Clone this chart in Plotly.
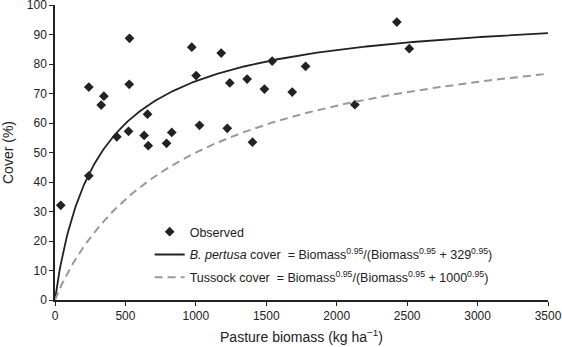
import numpy as np
import plotly.graph_objects as go

obs_biomass = [41, 240, 240, 328, 347, 439, 522, 527, 529, 633, 657, 662, 792, 829,
               971, 1002, 1026, 1180, 1223, 1241, 1364, 1402, 1487, 1542, 1684, 1779,
               2129, 2427, 2515]
obs_cover = [32.1, 42.1, 72.2, 66.1, 69.1, 55.3, 57.2, 73.1, 88.7, 55.8, 63.0, 52.3, 53.1, 56.8,
             85.7, 76.1, 59.2, 83.7, 58.2, 73.6, 74.9, 53.5, 71.5, 81.0, 70.5, 79.2,
             66.2, 94.2, 85.2]

# Fitted model parameters (from legend equations)
exponent = 0.95
k_pertusa = 329
k_tussock = 1000
x_max = 3500

biomass = np.linspace(0, x_max, 351)
pertusa = 100 * biomass**exponent / (biomass**exponent + k_pertusa**exponent)
tussock = 100 * biomass**exponent / (biomass**exponent + k_tussock**exponent)

x_ticks = [0, 500, 1000, 1500, 2000, 2500, 3000, 3500]
y_ticks = [0, 10, 20, 30, 40, 50, 60, 70, 80, 90, 100]

font = "Liberation Sans, Arial, sans-serif"

fig = go.Figure()
fig.add_trace(go.Scatter(
    x=obs_biomass, y=obs_cover, mode="markers", name="Observed", legendgroup="a",
    marker=dict(symbol="diamond", size=7.5, color="#222222"),
))
fig.add_trace(go.Scatter(
    x=biomass, y=pertusa, mode="lines", legendgroup="b",
    name="<i>B. pertusa</i> cover  = Biomass<sup>0.95</sup>/(Biomass<sup>0.95</sup> + 329<sup>0.95</sup>)",
    line=dict(color="#222222", width=1.8),
))
fig.add_trace(go.Scatter(
    x=biomass, y=tussock, mode="lines", legendgroup="c",
    name="Tussock cover  = Biomass<sup>0.95</sup>/(Biomass<sup>0.95</sup> + 1000<sup>0.95</sup>)",
    line=dict(color="#999999", width=2, dash="8px,5px"),
))

fig.update_layout(
    width=562, height=347,
    margin=dict(l=54.5, r=14, t=5, b=47.3, autoexpand=False),
    paper_bgcolor="white", plot_bgcolor="white",
    font=dict(family=font, size=12, color="#222222"),
    showlegend=True,
    legend=dict(x=0.192, y=0.281, xanchor="left", yanchor="top",
                bgcolor="rgba(0,0,0,0)", font=dict(size=12.5),
                tracegroupgap=3.5, itemwidth=30),
    xaxis=dict(range=[0, x_max], tickvals=x_ticks, showgrid=False, zeroline=False,
               showline=True, linecolor="#222222", linewidth=1.5,
               ticks="outside", ticklen=4, tickcolor="#222222", ticklabeloverflow="allow",
               title=dict(text="Pasture biomass (kg ha<sup>−1</sup>)", font=dict(size=14), standoff=10)),
    yaxis=dict(range=[0, 100], tickvals=y_ticks, showgrid=False, zeroline=False,
               showline=True, linecolor="#222222", linewidth=1.5,
               ticks="outside", ticklen=4, tickcolor="#222222", ticklabeloverflow="allow",
               title=dict(text="Cover (%)", font=dict(size=14), standoff=10)),
)

fig.write_html("out.html", config={"displayModeBar": False},
               post_script="document.body.style.margin='0';document.body.style.overflow='hidden';")
